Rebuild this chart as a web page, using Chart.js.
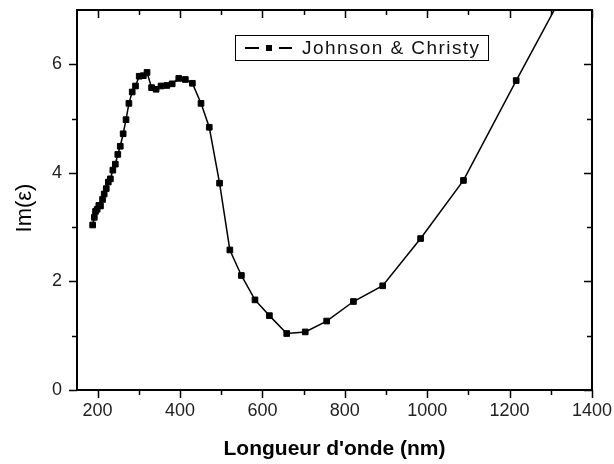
<!DOCTYPE html>
<html><head><meta charset="utf-8">
<script src="https://cdn.jsdelivr.net/npm/chart.js@4/dist/chart.umd.min.js"></script>
<style>html,body{margin:0;padding:0;background:#fff;}#wrap{width:614px;height:464px;}</style>
</head><body><div id="wrap"><canvas id="c" width="614" height="464"></canvas></div>
<script>
const wavelengths = [188,192,195,199,203,207,212,216,221,226,231,237,243,249,255,262,269,276,284,292,301,311,320,331,342,354,368,381,397,413,430,451,471,496,521,549,582,617,659,704,756,821,892,984,1088,1216,1393];
const imEps = [3.04,3.18,3.29,3.33,3.40,3.39,3.51,3.61,3.71,3.83,3.89,4.05,4.16,4.34,4.49,4.72,4.98,5.28,5.49,5.60,5.78,5.79,5.85,5.57,5.54,5.60,5.61,5.64,5.74,5.72,5.65,5.28,4.84,3.81,2.58,2.11,1.66,1.37,1.04,1.07,1.27,1.63,1.92,2.79,3.86,5.70,8.19];
const seriesLabel = 'Johnson & Christy';
const xTickLabels = [200,400,600,800,1000,1200,1400];
const xMinorTicks = [300,500,700,900,1100,1300];
const yTickLabels = [0,2,4,6];
const yMinorTicks = [1,3,5];
const xTitle = "Longueur d'onde (nm)";
const yTitle = 'Im(\u03B5)';

const FONT = "'Liberation Sans', Arial, sans-serif";

const framePlugin = {
  id: 'frame',
  afterDatasetsDraw(chart) {
    const {ctx, chartArea: a, scales: {x, y}} = chart;
    ctx.save();
    ctx.strokeStyle = '#000';
    ctx.lineWidth = 2;
    ctx.strokeRect(a.left, a.top, a.right - a.left, a.bottom - a.top);
    ctx.lineWidth = 1.5;
    ctx.beginPath();
    const tickX = (v, len) => {
      const px = Math.round(x.getPixelForValue(v)) + 0.5;
      ctx.moveTo(px, a.bottom); ctx.lineTo(px, a.bottom + len);
      ctx.moveTo(px, a.top); ctx.lineTo(px, a.top + len);
    };
    const tickY = (v, len) => {
      const py = Math.round(y.getPixelForValue(v)) + 0.5;
      ctx.moveTo(a.left, py); ctx.lineTo(a.left - len, py);
      ctx.moveTo(a.right, py); ctx.lineTo(a.right - len, py);
    };
    xTickLabels.forEach(v => tickX(v, 8));
    xMinorTicks.forEach(v => tickX(v, 5));
    yTickLabels.forEach(v => tickY(v, 8));
    yMinorTicks.forEach(v => tickY(v, 5));
    ctx.stroke();

    // legend
    const lx = 235.5, ly = 35.5, lw = 253, lh = 25;
    ctx.lineWidth = 1;
    ctx.strokeRect(lx, ly, lw, lh);
    const my = 48;
    ctx.lineWidth = 2;
    ctx.beginPath();
    ctx.moveTo(245, my); ctx.lineTo(259, my);
    ctx.moveTo(279, my); ctx.lineTo(292, my);
    ctx.stroke();
    ctx.fillStyle = '#000';
    ctx.fillRect(266, my - 3, 6, 6);
    ctx.font = '19px ' + FONT;
    ctx.textBaseline = 'middle';
    ctx.textAlign = 'left';
    const label = chart.data.datasets[0].label;
    const w = ctx.measureText(label).width;
    if (w < 177 && 'letterSpacing' in ctx) ctx.letterSpacing = ((177 - w) / (label.length - 1)).toFixed(2) + 'px';
    ctx.fillStyle = '#111';
    ctx.fillText(label, 302, my + 1);
    ctx.restore();

    // y title
    ctx.save();
    ctx.translate(25, 208);
    ctx.rotate(-Math.PI / 2);
    ctx.font = '22px ' + FONT;
    ctx.textAlign = 'center';
    ctx.textBaseline = 'middle';
    ctx.fillStyle = '#000';
    ctx.fillText(yTitle, 0, 0);
    ctx.restore();
  }
};

const noPad = s => { s.paddingTop = 0; s.paddingBottom = 0; s.paddingLeft = 0; s.paddingRight = 0; };

new Chart(document.getElementById('c'), {
  type: 'line',
  data: {
    datasets: [{
      label: seriesLabel,
      data: wavelengths.map((w, i) => ({x: w, y: imEps[i]})),
      borderColor: '#000',
      borderWidth: 1.5,
      pointStyle: 'rect',
      pointRadius: 4,
      pointBackgroundColor: '#000',
      pointBorderColor: '#000',
      pointBorderWidth: 1,
      tension: 0
    }]
  },
  options: {
    responsive: false,
    animation: false,
    devicePixelRatio: 1,
    layout: {padding: {top: 10, right: 22, left: 0, bottom: 0}},
    plugins: {legend: {display: false}, tooltip: {enabled: false}},
    scales: {
      x: {
        type: 'linear', min: 150, max: 1400,
        grid: {display: false, drawTicks: false},
        border: {display: false},
        afterBuildTicks: s => { s.ticks = xTickLabels.map(v => ({value: v})); },
        ticks: {font: {family: FONT, size: 18}, color: '#222', padding: 10, maxRotation: 0, autoSkip: false, callback: v => String(v)},
        title: {display: true, text: xTitle, color: '#000', font: {family: FONT, size: 21, weight: 'bold', lineHeight: 1}, padding: {top: 0, bottom: 4}},
        afterFit: s => { s.height = 74; noPad(s); }
      },
      y: {
        min: 0, max: 7,
        grid: {display: false, drawTicks: false},
        border: {display: false},
        afterBuildTicks: s => { s.ticks = yTickLabels.map(v => ({value: v})); },
        ticks: {font: {family: FONT, size: 18}, color: '#222', padding: 15, callback: v => String(v)},
        afterFit: s => { s.width = 77; noPad(s); }
      }
    }
  },
  plugins: [framePlugin]
});
</script>
</body></html>
